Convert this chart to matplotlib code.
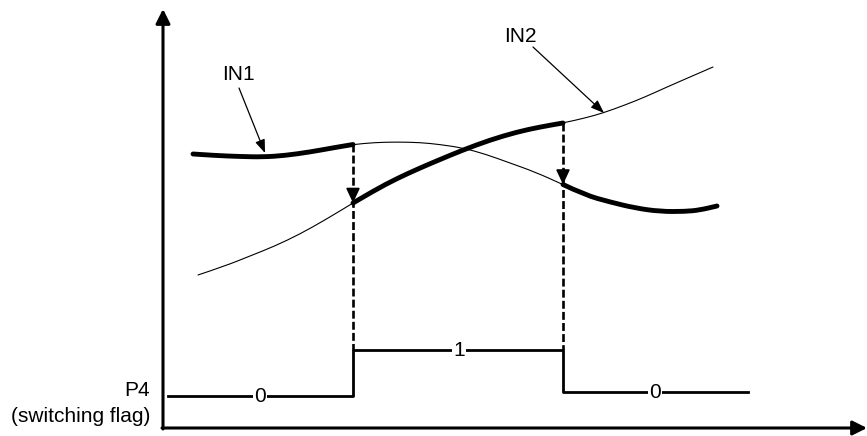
import matplotlib
matplotlib.use("Agg")
import matplotlib.pyplot as plt
import numpy as np
from matplotlib.path import Path
from matplotlib.patches import PathPatch

plt.rcParams['font.family'] = ['Liberation Sans', 'DejaVu Sans']

# curves (pixel coords, y grows downwards)
in1_x = [193, 215, 240, 263, 285, 310, 335, 353, 375, 397, 420, 440, 463, 485,
         510, 535, 563, 585, 610, 635, 660, 685, 700, 717]
in1_y = [154, 155.5, 156.5, 157, 155.5, 152, 147.5, 144.5, 142.5, 142, 142.5, 144.5,
         148, 154, 163, 172, 184.5, 195, 202, 208, 211.5, 211.5, 210, 206]
in2_x = [198, 225, 250, 275, 300, 325, 353, 375, 397, 420, 440, 463, 490, 517,
         540, 563, 585, 603, 625, 645, 667, 690, 713]
in2_y = [275, 266, 256, 246, 234, 220, 203, 190, 178.5, 168, 159.5, 150, 140, 132,
         127, 123, 118, 113, 105, 97, 87, 77, 67]

# switching instants and the P4 flag
t_switch = [353, 563]
p4_x = [168, 353, 353, 563, 563, 748]
p4_y = [396, 396, 350, 350, 392, 392]
p4_labels = ['0', '1', '0']
p4_label_x = [260, 459, 655]
p4_label_y = [396, 350, 392]

FS = 15


def smooth_curve(ax, xs, ys, lw):
    # quadratic bezier through midpoints -> rounded polyline
    pts = np.column_stack([xs, ys])
    verts = [pts[0]]
    codes = [Path.MOVETO]
    for i in range(1, len(pts) - 1):
        verts += [pts[i], (pts[i] + pts[i + 1]) / 2]
        codes += [Path.CURVE3, Path.CURVE3]
    verts.append(pts[-1])
    codes.append(Path.LINETO)
    ax.add_patch(PathPatch(Path(verts, codes), fill=False, lw=lw, ec='k',
                           capstyle='round', joinstyle='round'))


fig = plt.figure(figsize=(8.67, 4.36), dpi=100)
ax = fig.add_axes([0, 0, 1, 1])
ax.set_xlim(0, 867)
ax.set_ylim(436, 0)
ax.axis('off')

in1_x = np.array(in1_x, float); in1_y = np.array(in1_y, float)
in2_x = np.array(in2_x, float); in2_y = np.array(in2_y, float)

# thin full curves
smooth_curve(ax, in1_x, in1_y, 0.8)
smooth_curve(ax, in2_x, in2_y, 0.8)

# thick = selected signal
a, b = t_switch
m = in1_x <= a
smooth_curve(ax, in1_x[m], in1_y[m], 3.5)
m = (in2_x >= a) & (in2_x <= b)
smooth_curve(ax, in2_x[m], in2_y[m], 3.5)
m = in1_x >= b
smooth_curve(ax, in1_x[m], in1_y[m], 3.5)

# dashed switching arrows
head = dict(arrowstyle='-|>,head_length=0.9,head_width=0.42', color='k',
            lw=1.2, shrinkA=0, shrinkB=0, mutation_scale=10)
for xs in t_switch:
    top = np.interp(xs, in1_x, in1_y) if xs == a else np.interp(xs, in2_x, in2_y)
    tip = np.interp(xs, in2_x, in2_y) if xs == a else np.interp(xs, in1_x, in1_y)
    ax.plot([xs, xs], [top, 350], color='k', lw=1.9, dashes=(3.0, 1.2))
    ax.annotate('', xy=(xs, tip), xytext=(xs, tip - 14), arrowprops=head)

# P4 step
ax.plot(p4_x, p4_y, color='k', lw=2.0)
for s, lx, ly in zip(p4_labels, p4_label_x, p4_label_y):
    ax.text(lx, ly, s, fontsize=FS, ha='center', va='center',
            bbox=dict(facecolor='white', edgecolor='none', pad=1.0))

# axes with arrowheads
axhead = dict(arrowstyle='-|>,head_length=0.86,head_width=0.43',
              color='k', lw=2.2, shrinkA=0, shrinkB=0, mutation_scale=10)
ax.annotate('', xy=(163, 9), xytext=(163, 429), arrowprops=axhead)
ax.annotate('', xy=(867, 428), xytext=(162, 428), arrowprops=axhead)

# curve labels
lab = dict(arrowstyle='-|>,head_length=0.8,head_width=0.3', color='k',
           lw=0.9, shrinkA=0, shrinkB=0, mutation_scale=10)
ax.text(238, 75, 'IN1', fontsize=FS, ha='center', va='center')
ax.annotate('', xy=(265, 153), xytext=(239, 88), arrowprops=lab)
ax.text(520, 36, 'IN2', fontsize=FS, ha='center', va='center')
ax.annotate('', xy=(604, 113), xytext=(533, 47), arrowprops=lab)

ax.text(150, 390, 'P4', fontsize=FS, ha='right', va='center')
ax.text(150, 416, '(switching flag)', fontsize=FS, ha='right', va='center')

fig.savefig('out.png', dpi=100)
